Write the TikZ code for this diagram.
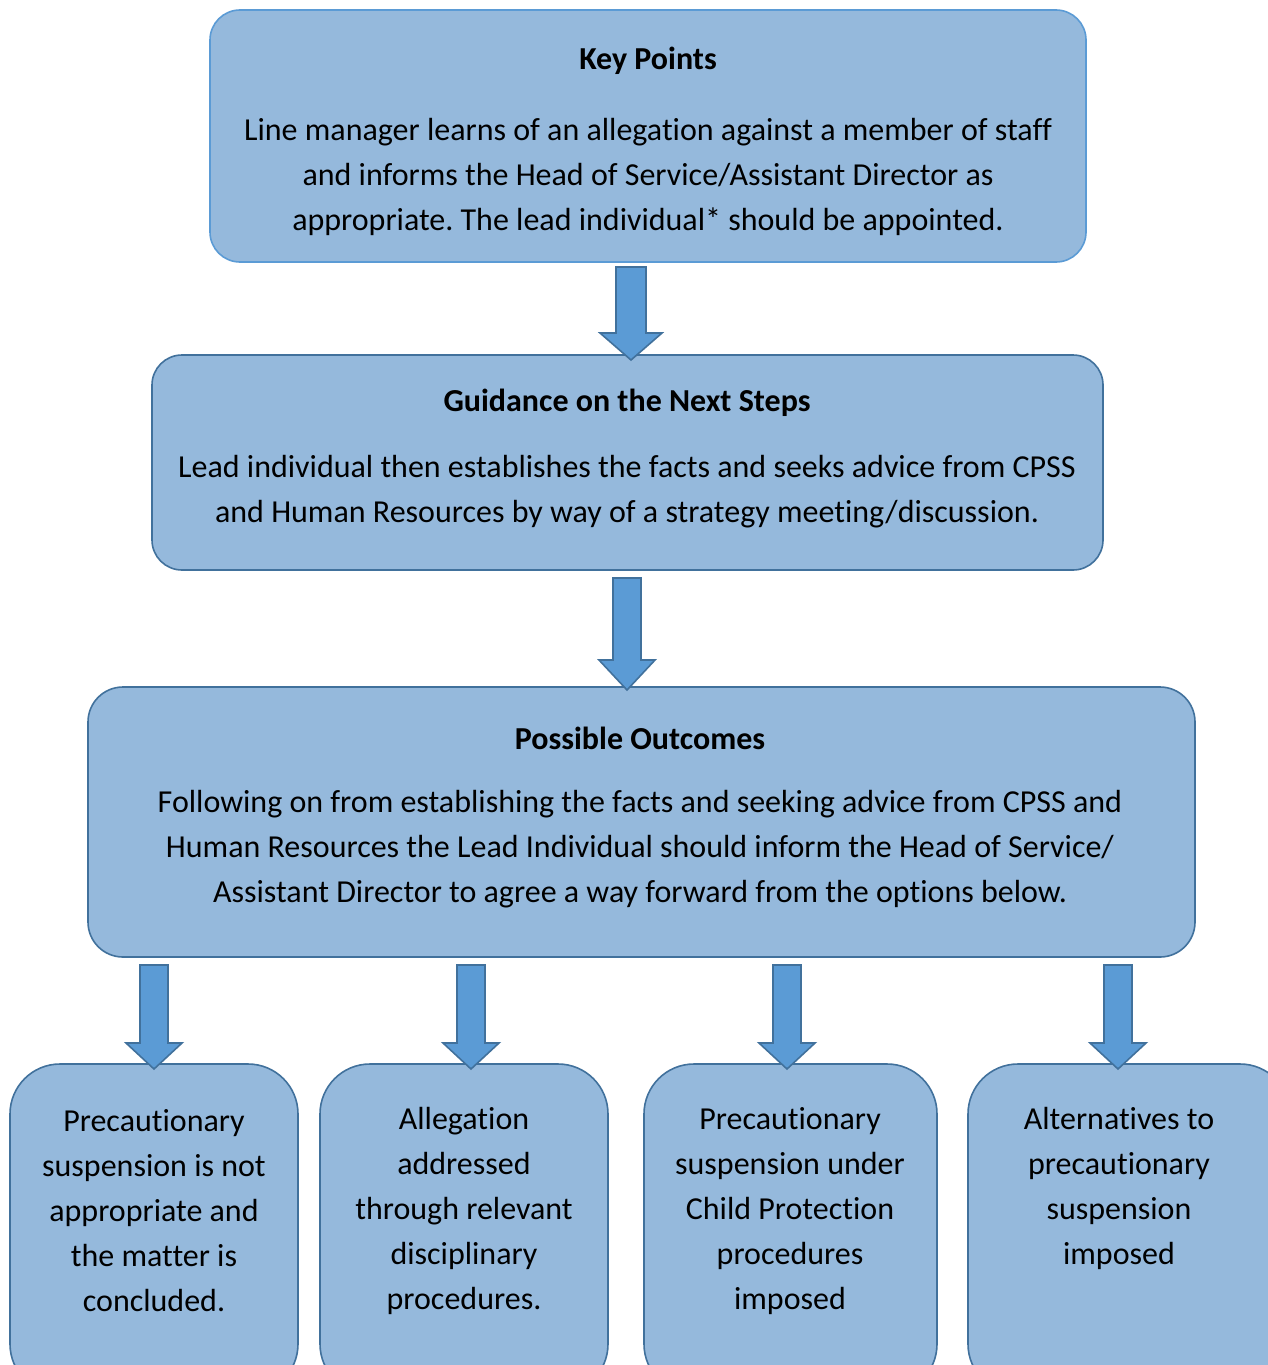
\documentclass[tikz,border=0pt]{standalone}
\usepackage{fontspec}
\setmainfont{Carlito}[Ligatures={NoCommon,NoContextual,NoRequired},Contextuals=NoAlternate]
\usetikzlibrary{calc}
\definecolor{boxfill}{HTML}{95B9DC}
\definecolor{darkedge}{HTML}{41719C}
\definecolor{lightedge}{HTML}{5B9BD5}
\definecolor{arrfill}{HTML}{5B9BD5}
\tikzset{
  box/.style={draw=darkedge, line width=1.6pt, fill=boxfill, rounded corners=30pt, inner sep=0pt},
  topbox/.style={box, draw=lightedge},
  outbox/.style={box, rounded corners=50pt, minimum width=288pt, minimum height=330pt},
  txt/.style={align=center, inner sep=0pt, font=\fontsize{32}{45}\selectfont\frenchspacing},
  ttl/.style={inner sep=0pt, font=\fontsize{32}{45}\selectfont\bfseries},
  arrowsty/.style={draw=darkedge, line width=1.6pt, fill=arrfill, line join=miter}
}
\newcommand\blockarr[5]{%
  \draw[arrowsty] let \p1=(#1), \p2=(#2) in
   (\x1-#3,\y1) -- (\x1+#3,\y1) -- (\x1+#3,\y2+#5) -- (\x1+#4,\y2+#5) -- (\x2,\y2)
   -- (\x1-#4,\y2+#5) -- (\x1-#3,\y2+#5) -- cycle;}
\begin{document}
\begin{tikzpicture}[x=1pt,y=-1pt]
\useasboundingbox (0,0) rectangle (1268,1365);
\clip (0,0) rectangle (1268,1365);
\fill[white] (0,0) rectangle (1268,1365);
% boxes
\node[topbox, minimum width=876pt, minimum height=252pt] (kp) at (648,136) {};
\node[box, minimum width=951pt, minimum height=215pt] (gd) at (627.5,462.5) {};
\node[box, rounded corners=35pt, minimum width=1107pt, minimum height=270pt] (po) at (641.5,822) {};
\node[outbox] (o1) at (154,1229) {};
\node[outbox] (o2) at (464,1229) {};
\node[outbox, minimum width=293pt] (o3) at (790.5,1229) {};
\node[outbox, minimum width=322pt] (o4) at (1129,1229) {};
% texts
\node[ttl] (kpt) at (648,61) {Key Points};
\node[txt] (kpb) at (648,177) {Line manager learns of an allegation against a member of staff\\and informs the Head of Service/Assistant Director as\\appropriate. The lead individual* should be appointed.};
\node[ttl] (gdt) at (627,403) {Guidance on the Next Steps};
\node[txt] (gdb) at (627,491.5) {Lead individual then establishes the facts and seeks advice from CPSS\\and Human Resources by way of a strategy meeting/discussion.};
\node[ttl] (pot) at (640,738) {Possible Outcomes};
\node[txt] (pob) at (640,849) {Following on from establishing the facts and seeking advice from CPSS and\\Human Resources the Lead Individual should inform the Head of Service/\\Assistant Director to agree a way forward from the options below.};
\node[txt] (o1t) at (154,1211) {Precautionary\\suspension is not\\appropriate and\\the matter is\\concluded.};
\node[txt] (o2t) at (464,1211) {Allegation\\addressed\\through relevant\\disciplinary\\procedures.};
\node[txt] (o3t) at (790,1211) {Precautionary\\suspension under\\Child Protection\\procedures\\imposed};
\node[txt] (o4t) at (1119,1188.5) {Alternatives to\\precautionary\\suspension\\imposed};
% arrows
\coordinate (a1s) at (631,267); \coordinate (a1e) at (631,360);
\coordinate (a2s) at (627,578); \coordinate (a2e) at (627,690);
\coordinate (b1s) at (154,965); \coordinate (b1e) at (154,1069);
\coordinate (b2s) at (471,965); \coordinate (b2e) at (471,1069);
\coordinate (b3s) at (787,965); \coordinate (b3e) at (787,1069);
\coordinate (b4s) at (1118,965); \coordinate (b4e) at (1118,1069);
\blockarr{a1s}{a1e}{15pt}{31pt}{27pt}
\blockarr{a2s}{a2e}{14pt}{28pt}{30pt}
\blockarr{b1s}{b1e}{14pt}{28pt}{26pt}
\blockarr{b2s}{b2e}{14pt}{28pt}{26pt}
\blockarr{b3s}{b3e}{14pt}{28pt}{26pt}
\blockarr{b4s}{b4e}{14pt}{28pt}{26pt}
\end{tikzpicture}
\end{document}
